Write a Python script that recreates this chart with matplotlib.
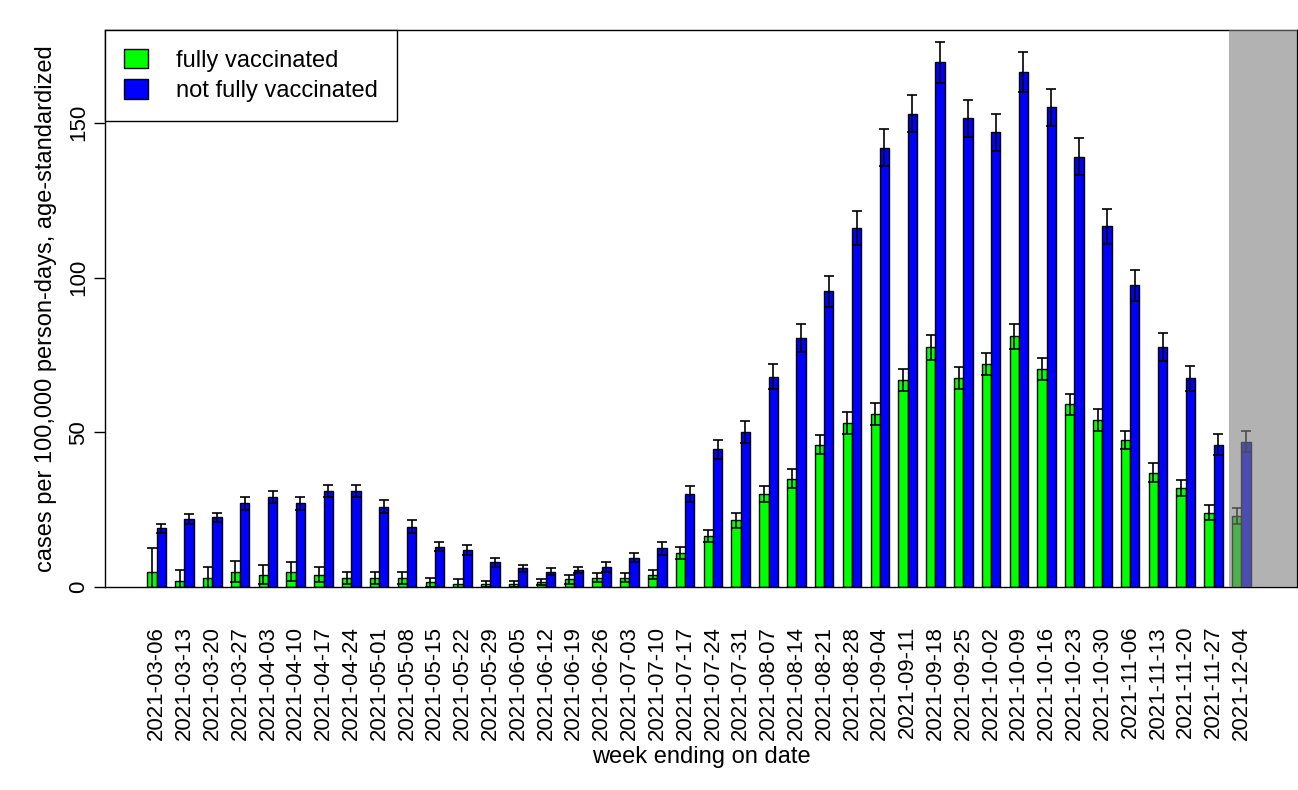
import numpy as np
import pandas as pd
import matplotlib
matplotlib.use("Agg")
import matplotlib.pyplot as plt
from matplotlib.patches import Patch, Rectangle

plt.rcParams['font.family'] = ['Liberation Sans', 'DejaVu Sans']

weeks = [d.strftime("%Y-%m-%d") for d in pd.date_range("2021-03-06", "2021-12-04", freq="7D")]

fully = [5, 2, 3, 5, 4, 5, 4, 3, 3, 3, 1.5, 1, 1, 1, 1.5, 2.5, 3, 3, 4, 11,
         16.5, 21.5, 30, 35, 46, 53, 56, 67, 77.5, 67.5, 72, 81, 70.5, 59, 54,
         47.5, 37, 32, 24, 23]
fully_err = [7.5, 3.5, 3.5, 3.5, 3, 3, 2.5, 2, 2, 2, 1.5, 1.5, 1, 1, 1, 1.5, 1.5, 1.5, 1.5, 2,
             2, 2.5, 2.5, 3, 3, 3.5, 3.5, 3.5, 4, 3.5, 3.5, 4, 3.5, 3.5, 3.5,
             3, 3, 2.5, 2.5, 2.5]
not_fully = [19, 22, 22.5, 27, 29, 27, 31, 31, 26, 19.5, 13, 12, 8, 6, 5, 5.5, 6.5, 9.5, 12.5, 30,
             44.5, 50, 68, 80.5, 95.5, 116, 142, 153, 169.5, 151.5, 147, 166.5, 155, 139, 116.5,
             97.5, 77.5, 67.5, 46, 47]
not_fully_err = [1.5, 1.5, 1.5, 2, 2, 2, 2, 2, 2, 2, 1.5, 1.5, 1.5, 1, 1, 1, 1.5, 1.5, 2, 2.5,
                 3, 3.5, 4, 4.5, 5, 5.5, 6, 6, 6.5, 6, 6, 6.5, 6, 6, 5.5,
                 5, 4.5, 4, 3.5, 3.5]

n = len(weeks)
x = np.arange(n) * 3
xg = x + 1.5
xb = x + 2.5

fig = plt.figure(figsize=(12.98, 7.9), dpi=100)
ax = fig.add_axes([105 / 1298, 1 - 587 / 790, (1297 - 105) / 1298, (587 - 30) / 790])

ekw = dict(elinewidth=1.2, capthick=1.2, ecolor="black")
ax.bar(xg, fully, width=1, color="#00ff00", edgecolor="black", linewidth=1,
       yerr=fully_err, capsize=3.5, error_kw=ekw, zorder=2)
ax.bar(xb, not_fully, width=1, color="#0000ff", edgecolor="black", linewidth=1,
       yerr=not_fully_err, capsize=3.5, error_kw=ekw, zorder=2)

ax.set_xlim(-3.57, 125)
ax.set_ylim(0, 180)
ax.add_patch(Rectangle((117.7, 0), 125 - 117.7, 180, facecolor="#808080", alpha=0.6,
                       edgecolor="none", zorder=3))

ax.set_xticks(x + 2)
ax.set_xticklabels(weeks, rotation=90, fontsize=16)
ax.tick_params(axis="x", length=0, pad=28)
ax.set_yticks([0, 50, 100, 150])
ax.set_yticklabels(["0", "50", "100", "150"], rotation=90, va="center", fontsize=16)
ax.tick_params(axis="y", length=8, width=1)
for s in ax.spines.values():
    s.set_linewidth(1)

ax.set_ylabel("cases per 100,000 person-days, age-standardized", fontsize=17, labelpad=8)
ax.set_xlabel("week ending on date", fontsize=17, labelpad=4)

handles = [Patch(facecolor="#00ff00", edgecolor="black"),
           Patch(facecolor="#0000ff", edgecolor="black")]
leg = ax.legend(handles, ["fully vaccinated", "not fully vaccinated"], loc="upper left",
                bbox_to_anchor=(0, 1), fontsize=17, fancybox=False, framealpha=1,
                edgecolor="black", borderaxespad=0, handlelength=1, handleheight=0.9,
                borderpad=0.8, labelspacing=0.3, handletextpad=1.2)
leg.get_frame().set_linewidth(1)

fig.savefig("out.png", dpi=100)
